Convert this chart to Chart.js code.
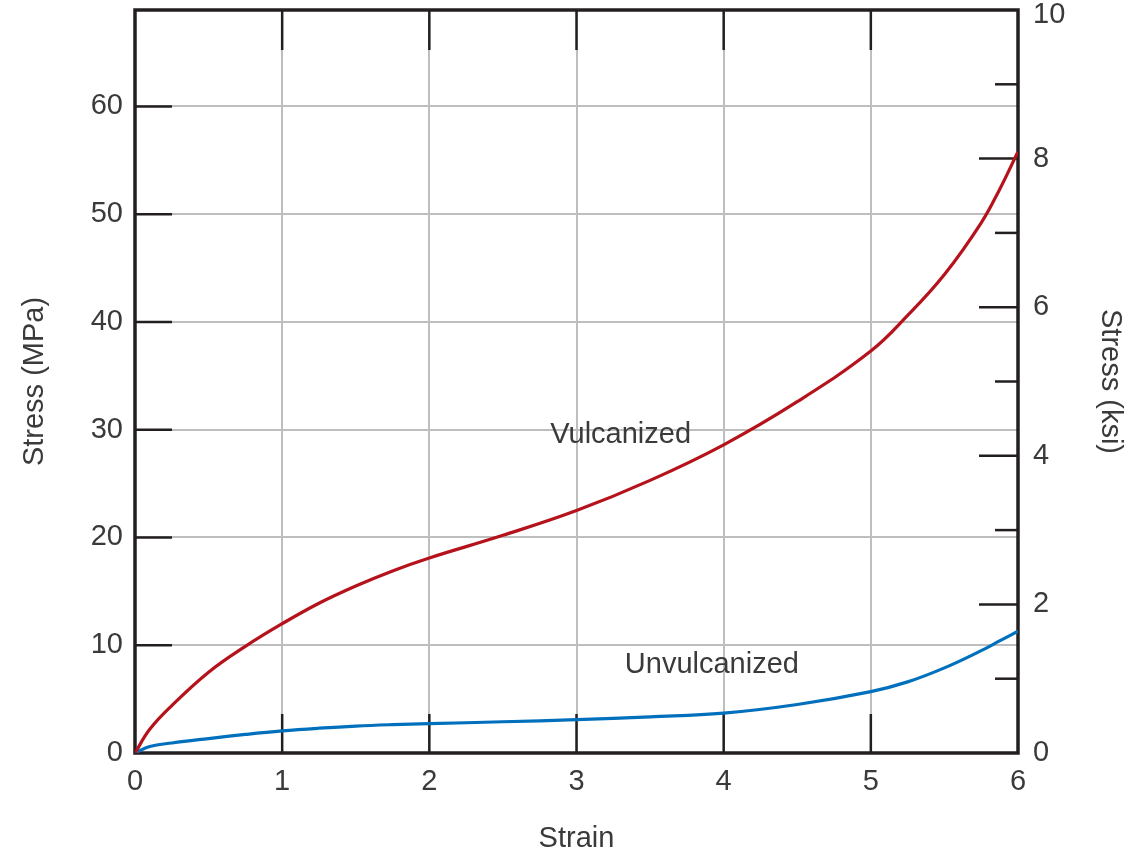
<!DOCTYPE html>
<html>
<head>
<meta charset="utf-8">
<script src="https://cdn.jsdelivr.net/npm/chart.js@4/dist/chart.umd.min.js"></script>
<style>
  html, body { margin: 0; padding: 0; background: #ffffff; }
  #wrap { width: 1145px; height: 853px; position: relative; }
</style>
</head>
<body>
<div id="wrap"><canvas id="c" width="1145" height="853"></canvas></div>
<script>
// ---- data ----
const strain       = [0, 0.1, 0.25, 0.5, 0.75, 1, 1.25, 1.5, 1.75, 2, 2.5, 3, 3.5, 4, 4.5, 5, 5.25, 5.5, 5.75, 5.875, 6];
const vulcanized   = [0, 2.2, 4.4, 7.5, 9.9, 12.0, 13.9, 15.5, 16.9, 18.1, 20.2, 22.5, 25.3, 28.6, 32.6, 37.3, 40.6, 44.4, 49.2, 52.3, 55.8];
const unvulcanized = [0, 0.6, 0.93, 1.34, 1.72, 2.05, 2.3, 2.5, 2.63, 2.72, 2.9, 3.09, 3.36, 3.7, 4.5, 5.7, 6.6, 7.9, 9.5, 10.4, 11.3];
const seriesNames  = ['Vulcanized', 'Unvulcanized'];
const xTicks   = [0, 1, 2, 3, 4, 5, 6];
const mpaTicks = [0, 10, 20, 30, 40, 50, 60];
const ksiTicks = [0, 2, 4, 6, 8, 10];
const ksiMinor = [1, 3, 5, 7, 9];
const ksiMax = 10;
const mpaPerKsi = 6.894757;
// curve label anchors (data units)
const labelAnchors = [
  { text: 'Vulcanized',   x: 3.30, y: 29.5 },
  { text: 'Unvulcanized', x: 3.92, y: 8.2 }
];

const FONT = '"Liberation Sans", Arial, sans-serif';
const TXT = '#3a3a3a';
const DARK = '#231f20';
const GRID = '#bebebe';

const framePlugin = {
  id: 'frame',
  beforeDatasetsDraw(chart) {
    const { ctx, chartArea: a, scales } = chart;
    const x = scales.x, yl = scales.y, yr = scales.y2;
    ctx.save();
    ctx.strokeStyle = DARK;
    ctx.lineCap = 'butt';
    ctx.lineWidth = 2.5;
    xTicks.slice(1, -1).forEach(v => {
      const px = x.getPixelForValue(v);
      ctx.beginPath(); ctx.moveTo(px, a.top); ctx.lineTo(px, a.top + 40); ctx.stroke();
      ctx.beginPath(); ctx.moveTo(px, a.bottom); ctx.lineTo(px, a.bottom - 39); ctx.stroke();
    });
    mpaTicks.slice(1).forEach(v => {
      const py = yl.getPixelForValue(v);
      ctx.beginPath(); ctx.moveTo(a.left, py); ctx.lineTo(a.left + 37, py); ctx.stroke();
    });
    ksiTicks.slice(1, -1).forEach(v => {
      const py = yr.getPixelForValue(v);
      ctx.beginPath(); ctx.moveTo(a.right, py); ctx.lineTo(a.right - 39, py); ctx.stroke();
    });
    ksiMinor.forEach(v => {
      const py = yr.getPixelForValue(v);
      ctx.beginPath(); ctx.moveTo(a.right, py); ctx.lineTo(a.right - 23, py); ctx.stroke();
    });
    ctx.lineWidth = 3.5;
    ctx.strokeRect(a.left, a.top, a.right - a.left, a.bottom - a.top);
    ctx.restore();
  },
  afterDatasetsDraw(chart) {
    const { ctx, scales, chartArea: a } = chart;
    ctx.save();
    ctx.fillStyle = TXT;
    ctx.font = '29px ' + FONT;
    ctx.textAlign = 'center';
    ctx.textBaseline = 'middle';
    labelAnchors.forEach(l => {
      ctx.fillText(l.text, scales.x.getPixelForValue(l.x), scales.y.getPixelForValue(l.y));
    });
    // right-axis (ksi) tick labels, kept inside the canvas at the top
    ctx.textAlign = 'left';
    ksiTicks.forEach(v => {
      const py = Math.max(scales.y2.getPixelForValue(v), a.top + 5);
      ctx.fillText(String(v), a.right + 15, py);
    });
    ctx.restore();
  }
};

const tickFont = { family: FONT, size: 29 };

new Chart(document.getElementById('c'), {
  type: 'line',
  data: {
    datasets: [
      {
        label: seriesNames[0],
        data: strain.map((s, i) => ({ x: s, y: vulcanized[i] })),
        borderColor: '#b5121b',
        borderWidth: 3.2,
        pointRadius: 0,
        tension: 0.4,
        yAxisID: 'y'
      },
      {
        label: seriesNames[1],
        data: strain.map((s, i) => ({ x: s, y: unvulcanized[i] })),
        borderColor: '#0070bd',
        borderWidth: 3.2,
        pointRadius: 0,
        tension: 0.4,
        yAxisID: 'y'
      }
    ]
  },
  options: {
    responsive: false,
    animation: false,
    devicePixelRatio: 1,
    layout: { padding: { top: 10, left: 0, right: 0, bottom: 0 } },
    plugins: { legend: { display: false }, tooltip: { enabled: false } },
    scales: {
      x: {
        type: 'linear',
        min: 0, max: 6,
        afterFit(s) { s.height = 100; s.paddingLeft = 0; s.paddingRight = 0; },
        afterBuildTicks(s) { s.ticks = xTicks.map(v => ({ value: v })); },
        grid: { color: GRID, lineWidth: 2, drawTicks: false },
        border: { display: false },
        ticks: { color: TXT, font: tickFont, padding: 12, maxRotation: 0 },
        title: { display: true, text: 'Strain', color: TXT, font: { family: FONT, size: 29, lineHeight: 1 }, padding: { top: 0, bottom: 0 } }
      },
      y: {
        type: 'linear',
        position: 'left',
        min: 0, max: ksiMax * mpaPerKsi,
        afterFit(s) { s.width = 135; s.paddingTop = 0; s.paddingBottom = 0; },
        afterBuildTicks(s) { s.ticks = mpaTicks.map(v => ({ value: v })); },
        grid: { color: GRID, lineWidth: 2, drawTicks: false },
        border: { display: false },
        ticks: { color: TXT, font: tickFont, padding: 12 },
        title: { display: true, text: 'Stress (MPa)', color: TXT, font: { family: FONT, size: 29, lineHeight: 1.2 }, padding: { top: 18, bottom: 0 } }
      },
      y2: {
        type: 'linear',
        position: 'right',
        min: 0, max: ksiMax,
        afterFit(s) { s.width = 127; s.paddingTop = 0; s.paddingBottom = 0; },
        afterBuildTicks(s) { s.ticks = ksiTicks.map(v => ({ value: v })); },
        grid: { display: false, drawTicks: false },
        border: { display: false },
        ticks: { display: false },
        title: { display: true, text: 'Stress (ksi)', color: TXT, font: { family: FONT, size: 29, lineHeight: 1.2 }, padding: { top: 18, bottom: 0 } }
      }
    }
  },
  plugins: [framePlugin]
});
</script>
</body>
</html>
